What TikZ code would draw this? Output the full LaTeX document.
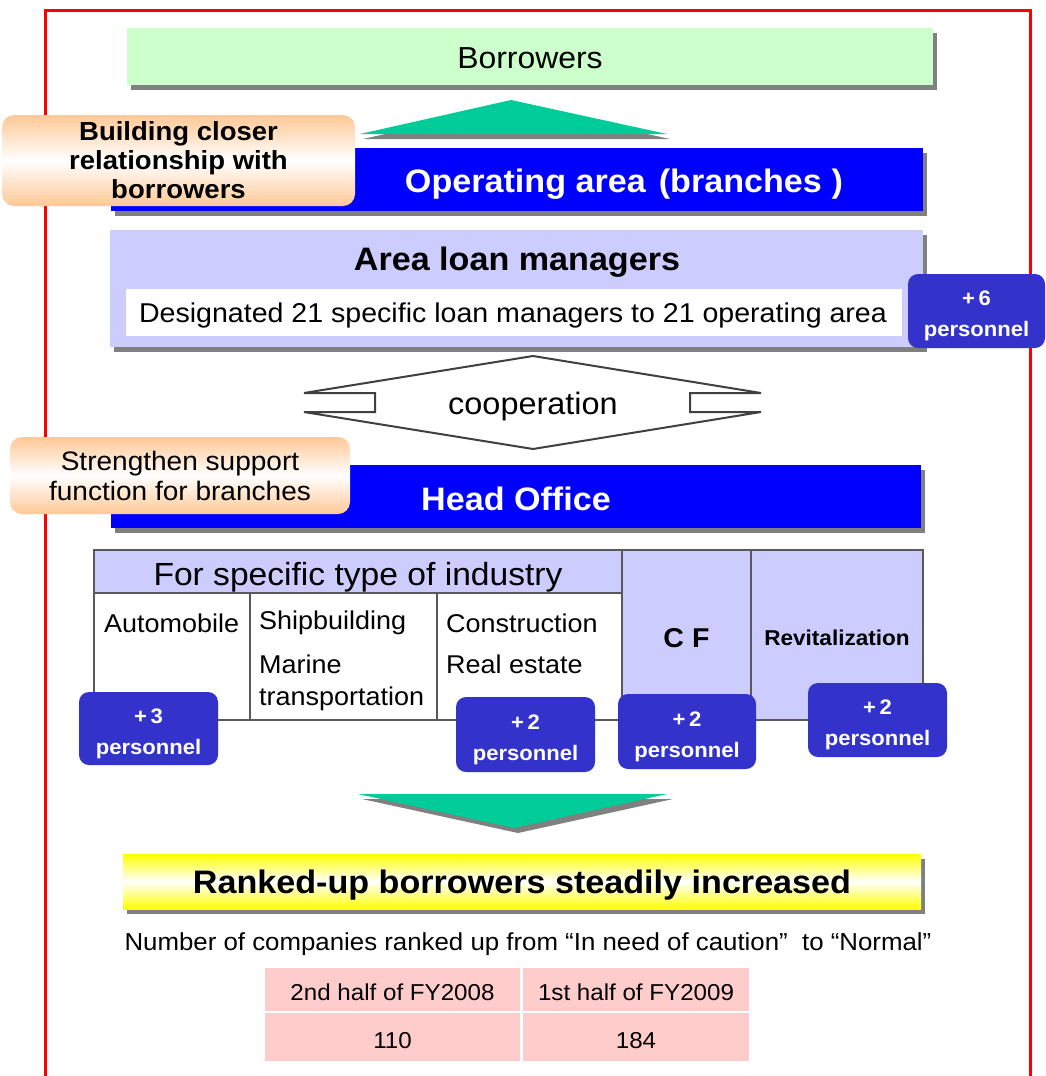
\documentclass[tikz,border=0pt]{standalone}
\usepackage{fontspec}
\setmainfont{Liberation Sans}[FakeStretch=1.05]
\usetikzlibrary{shadows}

\definecolor{borrowgreen}{HTML}{CCFFCC}
\definecolor{arrowgreen}{HTML}{00CC99}
\definecolor{opblue}{HTML}{0000FF}
\definecolor{lilac}{HTML}{CCCCFF}
\definecolor{badgeblue}{HTML}{3333CC}
\definecolor{peach}{HTML}{FFC896}
\definecolor{cellpink}{HTML}{FFCCCC}
\definecolor{shadowgray}{HTML}{808080}
\definecolor{tablegray}{HTML}{595959}
\definecolor{coopgray}{HTML}{404040}

\newcommand{\setsize}[2]{\fontsize{#1}{#2}\selectfont}

\tikzset{
  boxshadow/.style={drop shadow={shadow xshift=4pt, shadow yshift=-5pt, fill=shadowgray, opacity=1}},
  panel/.style={boxshadow, inner sep=0pt, outer sep=0pt},
  callout/.style={rounded corners=12pt, top color=peach, bottom color=peach, middle color=white, inner sep=0pt, align=center},
  badge/.style={rounded corners=10pt, fill=badgeblue, inner sep=0pt},
  badgetext/.style={text=white, font=\bfseries\setsize{21}{31}, align=center, inner sep=0pt},
  cell/.style={draw=tablegray, line width=2pt, inner sep=0pt},
  celltext/.style={anchor=west, inner sep=0pt, font=\setsize{25.7}{30}},
  rankcell/.style={fill=cellpink, inner sep=0pt, text height=22pt, text depth=0pt, font=\setsize{23}{26}},
}

\begin{document}
\begin{tikzpicture}[x=1pt, y=-1pt]
        \useasboundingbox (0,0) rectangle (1045,1076);

        % Frame
        \draw[red, line width=3pt] (45,1076) -- (45,10) -- (1030,10) -- (1030,1076);

        % Borrowers
        \node[panel, fill=borrowgreen, minimum width=806, minimum height=57] (borrowers) at (530,56.5) {};
        \node[font=\setsize{30.4}{36}] (borrowText) at (530,58) {Borrowers};

        % Arrow up
        \fill[shadowgray] (363,139) -- (514,105) -- (670,139) -- cycle;
        \fill[arrowgreen] (360,134) -- (511,100) -- (667,134) -- cycle;

        % Operating area
        \node[panel, fill=opblue, minimum width=812, minimum height=63] (opArea) at (517,179.5) {};
        \node[text=white, font=\bfseries\setsize{32.5}{38}] (opText) at (624,184) {Operating area\hspace{0.4em}(branches\hspace{0.3em})};
        \node[callout, minimum width=353, minimum height=91, font=\bfseries\setsize{26.2}{29}] (closer) at (178.5,160.5) {Building closer\\relationship with\\borrowers};

        % Area loan managers
        \node[panel, fill=lilac, minimum width=813, minimum height=117] (areaMgr) at (516.5,288.5) {};
        \node[font=\bfseries\setsize{32.5}{38}] (areaTitle) at (517,262) {Area loan managers};
        \node[fill=white, minimum width=776, minimum height=47, inner sep=0pt] (areaBox) at (514,312.5) {};
        \node[font=\setsize{27.2}{32}] (areaText) at (513,315) {Designated 21 specific loan managers to 21 operating area};
        \node[badge, minimum width=137, minimum height=74] (plusSix) at (976.5,311) {};
        \node[badgetext] (plusSixText) at ([yshift=-5pt]plusSix.center) {+\,6\\personnel};

        % Cooperation
        \draw[coopgray, line width=2pt, fill=white] (533,356) -- (761,393) -- (690,393) -- (690,412) -- (761,412) -- (533,449) -- (304,412) -- (375,412) -- (375,393) -- (304,393) -- cycle;
        \node[font=\setsize{30.9}{36}] (coopText) at (533,407) {cooperation};

        % Head Office
        \node[panel, fill=opblue, minimum width=810, minimum height=63] (headOffice) at (516,496.5) {};
        \node[text=white, font=\bfseries\setsize{32.5}{38}] (headText) at (516,499) {Head Office};
        \node[callout, minimum width=340, minimum height=77, font=\setsize{26.7}{30}] (support) at (180,475.5) {Strengthen support\\function for branches};

        % Industry table
        \node[cell, fill=lilac, minimum width=528, minimum height=43] (indHead) at (358,571.5) {};
        \node[font=\setsize{32}{36}] (indText) at (358,577) {For specific type of industry};
        \node[cell, fill=white, minimum width=156, minimum height=127] (autoCell) at (172,656.5) {};
        \node[cell, fill=white, minimum width=187, minimum height=127] (shipCell) at (343.5,656.5) {};
        \node[cell, fill=white, minimum width=185, minimum height=127] (constrCell) at (529.5,656.5) {};
        \node[cell, fill=lilac, minimum width=129, minimum height=170] (cfCell) at (686.5,635) {};
        \node[cell, fill=lilac, minimum width=172, minimum height=170] (revCell) at (837,635) {};
        \node[celltext] (autoText) at (104,623) {Automobile};
        \node[celltext] (shipText) at (259,623) {Shipbuilding};
        \node[celltext] (marineText) at (259,664) {Marine};
        \node[celltext] (transText) at (259,699) {transportation};
        \node[celltext] (constrText) at (446,623) {Construction};
        \node[celltext] (realText) at (446,664) {Real estate};
        \node[font=\bfseries\setsize{27.2}{32}] (cfText) at (686.5,638) {C\hspace{0.3em}F};
        \node[font=\bfseries\setsize{21.5}{26}] (revText) at (837,638) {Revitalization};

        % Personnel badges
        \node[badge, minimum width=139, minimum height=73] (plusThree) at (148.5,728.5) {};
        \node[badgetext] (plusThreeText) at ([yshift=-5pt]plusThree.center) {+\,3\\personnel};
        \node[badge, minimum width=139, minimum height=75] (plusConstr) at (525.5,734.5) {};
        \node[badgetext] (plusConstrText) at ([yshift=-5pt]plusConstr.center) {+\,2\\personnel};
        \node[badge, minimum width=138, minimum height=75] (plusCF) at (687,731.5) {};
        \node[badgetext] (plusCFText) at ([yshift=-5pt]plusCF.center) {+\,2\\personnel};
        \node[badge, minimum width=139, minimum height=74] (plusRev) at (877.5,720) {};
        \node[badgetext] (plusRevText) at ([yshift=-5pt]plusRev.center) {+\,2\\personnel};

        % Arrow down
        \fill[shadowgray] (362,799) -- (673,799) -- (518,833) -- cycle;
        \fill[arrowgreen] (358,794) -- (667,794) -- (514,828) -- cycle;

        % Result
        \node[panel, top color=yellow, bottom color=yellow, middle color=white, minimum width=798, minimum height=55] (ranked) at (522,881.5) {};
        \node[font=\bfseries\setsize{32.5}{38}] (rankedText) at (522,885) {Ranked-up borrowers steadily increased};
        \node[font=\setsize{24.6}{29}] (rankNote) at (528,944) {Number of companies ranked up from “In need of caution”\ \ to “Normal”};

        % Ranked-up numbers
        \node[rankcell, minimum width=255, minimum height=43] (halfOne) at (392.5,989.5) {2nd half of FY2008};
        \node[rankcell, minimum width=226, minimum height=43] (halfTwo) at (636,989.5) {1st half of FY2009};
        \node[rankcell, minimum width=255, minimum height=48] (numOne) at (392.5,1037) {110};
        \node[rankcell, minimum width=226, minimum height=48] (numTwo) at (636,1037) {184};
\end{tikzpicture}
\end{document}
